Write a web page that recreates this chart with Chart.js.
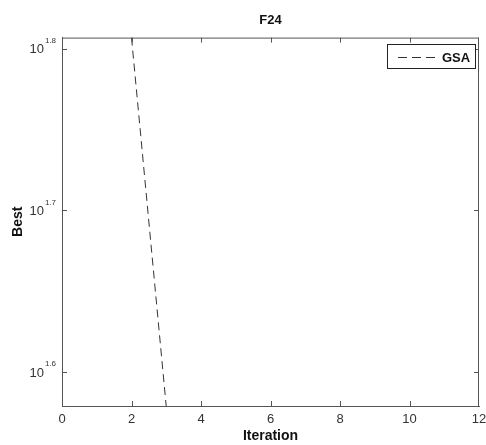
<!DOCTYPE html>
<html>
<head>
<meta charset="utf-8">
<script src="https://cdn.jsdelivr.net/npm/chart.js@4/dist/chart.umd.min.js"></script>
<style>
  html, body { margin: 0; padding: 0; background: #fff; }
  #wrap { width: 486px; height: 445px; }
</style>
</head>
<body>
<div id="wrap"><canvas id="bestChart" width="486" height="445"></canvas></div>
<script>
// data
const iterations = [2, 3];
const bestValues = [64.1, 37.9];
const xTicks = [0, 2, 4, 6, 8, 10, 12];
const yExponents = [1.6, 1.7, 1.8];
const yRange = [37.93, 64.1];
const seriesName = 'GSA';

const axisColor = '#555';
const textColor = '#333';
const fontFam = '"Liberation Sans", Arial, sans-serif';

// MATLAB style box, inward ticks, 10^x labels and legend box
const matlabBox = {
  id: 'matlabBox',
  afterDraw(chart) {
    const { ctx, chartArea: a, scales: { x, y } } = chart;
    ctx.save();
    ctx.strokeStyle = axisColor;
    ctx.lineWidth = 1;
    ctx.beginPath();
    ctx.moveTo(a.left, a.top + 0.5); ctx.lineTo(a.right, a.top + 0.5);
    ctx.moveTo(a.right - 0.5, a.top); ctx.lineTo(a.right - 0.5, a.bottom);
    xTicks.slice(1, -1).forEach(v => {
      const px = Math.round(x.getPixelForValue(v)) + 0.5;
      ctx.moveTo(px, a.bottom); ctx.lineTo(px, a.bottom - 5);
      ctx.moveTo(px, a.top); ctx.lineTo(px, a.top + 5);
    });
    yExponents.forEach(e => {
      const py = Math.round(y.getPixelForValue(Math.pow(10, e))) + 0.5;
      ctx.moveTo(a.left, py); ctx.lineTo(a.left + 5, py);
      ctx.moveTo(a.right, py); ctx.lineTo(a.right - 5, py);
    });
    ctx.stroke();

    // y tick labels with superscript exponents
    ctx.fillStyle = textColor;
    ctx.textBaseline = 'middle';
    yExponents.forEach(e => {
      const py = y.getPixelForValue(Math.pow(10, e));
      const exp = e.toFixed(1);
      ctx.font = '8px ' + fontFam;
      const ew = ctx.measureText(exp).width;
      ctx.textAlign = 'left';
      const ex = a.left - 6 - ew;
      ctx.fillText(exp, ex, py - 8);
      ctx.font = '13px ' + fontFam;
      ctx.textAlign = 'right';
      ctx.fillText('10', ex - 1, py + 1);
    });

    // legend
    const lx = 387, ly = 44, lw = 88, lh = 24;
    ctx.fillStyle = '#fff';
    ctx.fillRect(lx, ly, lw, lh);
    ctx.strokeStyle = '#222';
    ctx.strokeRect(lx + 0.5, ly + 0.5, lw, lh);
    ctx.setLineDash([9, 5]);
    ctx.strokeStyle = textColor;
    ctx.beginPath();
    ctx.moveTo(398, ly + 13.5); ctx.lineTo(436, ly + 13.5);
    ctx.stroke();
    ctx.setLineDash([]);
    ctx.fillStyle = '#111';
    ctx.font = 'bold 13px ' + fontFam;
    ctx.textAlign = 'left';
    ctx.fillText(seriesName, 442, ly + 14);
    ctx.restore();
  }
};

const bestCtx = document.getElementById('bestChart').getContext('2d');
const bestChart = new Chart(bestCtx, {
  type: 'line',
  data: {
    datasets: [{
      label: seriesName,
      data: iterations.map((it, i) => ({ x: it, y: bestValues[i] })),
      borderColor: textColor,
      borderWidth: 1,
      borderDash: [8, 5],
      pointRadius: 0,
      tension: 0,
      fill: false
    }]
  },
  options: {
    responsive: false,
    animation: false,
    events: [],
    layout: { padding: { left: 0, right: 7, top: 0, bottom: 0 } },
    plugins: {
      legend: { display: false },
      tooltip: { enabled: false },
      title: {
        display: true,
        fullSize: false,
        text: 'F24',
        color: '#111',
        font: { family: fontFam, size: 13, weight: 'bold' },
        padding: { top: 13, bottom: 9 }
      }
    },
    scales: {
      x: {
        type: 'linear',
        min: 0,
        max: 12,
        afterBuildTicks: s => { s.ticks = xTicks.map(v => ({ value: v })); },
        ticks: {
          color: textColor,
          padding: 6,
          maxRotation: 0,
          font: { family: fontFam, size: 13 }
        },
        grid: { display: false, drawTicks: false },
        border: { display: true, color: axisColor, width: 1 },
        title: {
          display: true,
          text: 'Iteration',
          color: '#111',
          font: { family: fontFam, size: 14, weight: 'bold' },
          padding: { top: 0, bottom: 0 }
        },
        afterFit: s => { s.height = 39; s.paddingLeft = 0; s.paddingRight = 0; }
      },
      y: {
        type: 'logarithmic',
        min: yRange[0],
        max: yRange[1],
        afterBuildTicks: s => { s.ticks = yExponents.map(e => ({ value: Math.pow(10, e) })); },
        ticks: { display: false },
        grid: { display: false, drawTicks: false },
        border: { display: true, color: axisColor, width: 1 },
        title: {
          display: true,
          text: 'Best',
          color: '#111',
          font: { family: fontFam, size: 14, weight: 'bold' },
          padding: { top: 10, bottom: 0 }
        },
        afterFit: s => { s.width = 62; s.paddingTop = 0; s.paddingBottom = 0; }
      }
    }
  },
  plugins: [matlabBox]
});
</script>
</body>
</html>
